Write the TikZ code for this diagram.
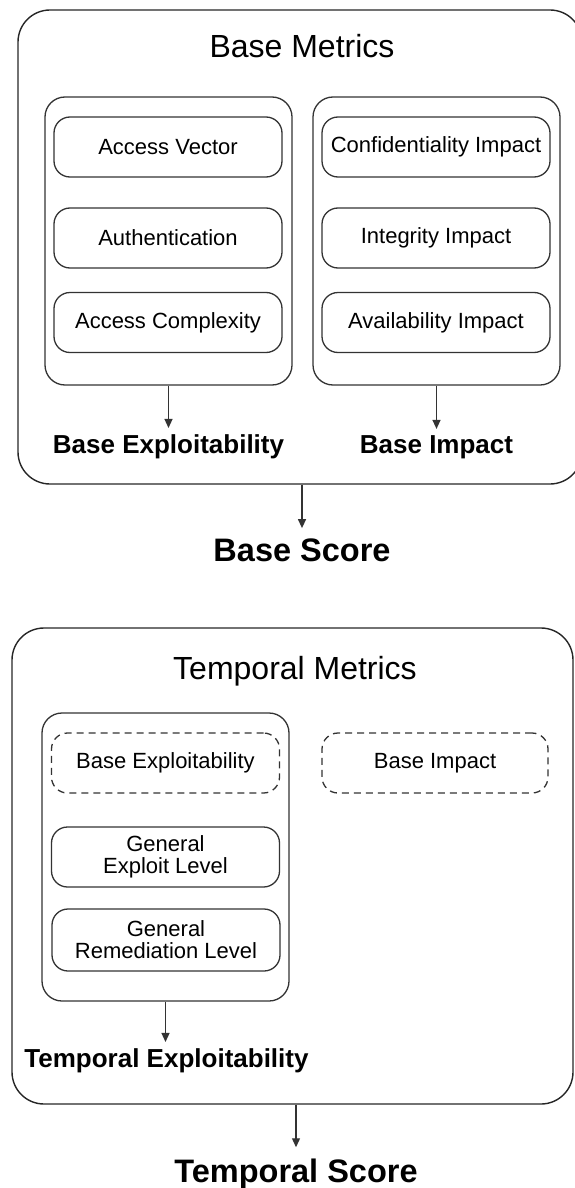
\documentclass[tikz,border=0pt]{standalone}
\usepackage{fontspec}
\setmainfont{Liberation Sans}
\usetikzlibrary{arrows.meta}

\begin{document}
\begin{tikzpicture}[x=1pt,y=-1pt,
    box/.style={draw=black!80,line width=1.3pt,rounded corners=16pt,inner sep=0pt,
        minimum width=228pt,minimum height=60pt,align=center,
        font=\fontsize{22}{22}\selectfont},
    dbox/.style={box,dash pattern=on 7pt off 5pt},
    group/.style={draw=black!80,line width=1.3pt,rounded corners=20pt,inner sep=0pt,
        minimum width=247pt,minimum height=288pt},
    panel/.style={draw=black!85,line width=1.4pt,rounded corners=32pt,inner sep=0pt},
    mtitle/.style={anchor=base,font=\fontsize{32}{32}\selectfont},
    sublbl/.style={anchor=base,inner sep=6pt,font=\bfseries\fontsize{26}{26}\selectfont},
    score/.style={anchor=base,inner sep=10pt,font=\bfseries\fontsize{32.5}{32.5}\selectfont},
    arr/.style={-{Triangle[length=9pt,width=8pt]},line width=1.3pt,draw=black!80}]
            \useasboundingbox (0,0) rectangle (574,1188);
            % base metrics
            \node (bpanel) at (300,247)[panel,minimum width=564pt,minimum height=474pt]{};
            \node (btitle) at (302,58)[mtitle]{Base Metrics};
            \node (gexp) at (168.5,241)[group]{};
            \node (gimp) at (436.5,241)[group]{};
            \node (av) at (168,147)[box]{Access Vector};
            \node (au) at (168,238)[box]{Authentication};
            \node (ac) at (168,322.5)[box]{Access Complexity};
            \node (ci) at (436,147)[box]{Confidentiality Impact};
            \node (ii) at (436,238)[box]{Integrity Impact};
            \node (ai) at (436,322.5)[box]{Availability Impact};
            \node (bexp) at (168.5,453)[sublbl]{Base Exploitability};
            \node (bimp) at (436.5,453)[sublbl]{Base Impact};
            \draw[arr] (gexp.south) -- (bexp.north);
            \draw[arr] (gimp.south) -- (bimp.north);
            \node (bscore) at (302,561)[score]{Base Score};
            \draw[arr] (bpanel.south -| bscore.north) -- (bscore.north);
            % temporal metrics
            \node (tpanel) at (292.5,866)[panel,minimum width=561pt,minimum height=476pt]{};
            \node (ttitle) at (295,679)[mtitle]{Temporal Metrics};
            \node (tgrp) at (165.5,857)[group]{};
            \node (tbexp) at (165.5,763)[dbox]{Base Exploitability};
            \node (tbimp) at (435,763)[dbox,minimum width=226pt]{Base Impact};
            \node (gel) at (165.5,857)[box]{General\\Exploit Level};
            \node (grl) at (166,940)[box,minimum height=62pt]{General\\Remediation Level};
            \node (texp) at (166.5,1067)[sublbl]{Temporal Exploitability};
            \draw[arr] (tgrp.south) -- (tgrp.south |- texp.north);
            \node (tscore) at (296,1182)[score,inner sep=11pt]{Temporal Score};
            \draw[arr] (tpanel.south -| tscore.north) -- (tscore.north);
        \end{tikzpicture}
\end{document}
